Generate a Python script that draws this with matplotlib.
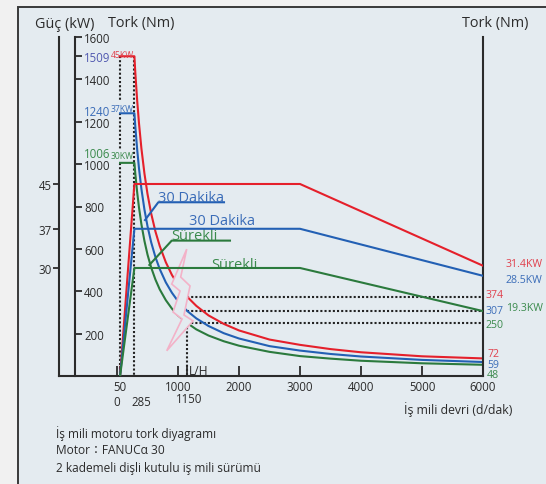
import matplotlib

matplotlib.use("Agg")
import matplotlib.pyplot as plt  # noqa:E402
from matplotlib.patches import Polygon, Rectangle  # noqa:E402

plt.rcParams["font.family"] = ["Open Sans", "DejaVu Sans"]

# torque curves (Nm) at these spindle speeds (rpm)
TORQUE_RPM = [50, 285, 300, 330, 360, 400, 450, 500, 560, 630, 700, 800, 900,
              1000, 1150, 1300, 1500, 1750, 2000, 2500, 3000, 3500, 4000, 5000, 6000]
TORQUE_45KW = [1509, 1509, 1432, 1302, 1194, 1074, 955, 859, 767, 682, 614, 537, 477,
               430, 374, 331, 286, 246, 215, 172, 147, 127, 112, 93, 83]
TORQUE_37KW = [1240, 1240, 1178, 1071, 981, 883, 785, 707, 631, 561, 505, 442, 393,
               353, 307, 272, 236, 202, 177, 141, 120, 104, 92, 76, 66]
TORQUE_30KW = [1006, 1006, 955, 868, 796, 716, 637, 573, 512, 455, 409, 358, 318,
               286, 250, 220, 191, 164, 143, 114, 94, 82, 72, 60, 53]

# power curves (kW, on the left power scale)
POWER_RPM = [50, 285, 3000, 6000]
POWER_45KW = [10.7, 45, 45, 30.4]
POWER_37KW = [10.7, 37, 37, 28.6]
POWER_30KW = [10.7, 30, 30, 22.3]

TORQUE_TICKS = [200, 400, 600, 800, 1000, 1200, 1400, 1509, 1600]
POWER_TICKS = [30, 37, 45]
RPM_TICKS = [0, 50, 1000, 1150, 2000, 3000, 4000, 5000, 6000]
RPM_TICK_LABELS = ["", "50", "1000", "", "2000", "3000", "4000", "5000", "6000"]

START_RPM = 50
BASE_RPM = 285
SHIFT_RPM = 1150
MAX_TORQUE = [1509, 1240, 1006]
SHIFT_TORQUE = [374, 307, 250]
END_TORQUE = [72, 59, 48]
END_POWER = ["31.4KW", "28.5KW", "19.3KW"]
MAX_POWER = ["45KW", "37KW", "30KW"]

# gear change "lightning" mark
BOLT_RPM = [1143, 897, 1033, 918, 1066, 815, 1246, 1098, 1197, 1044]
BOLT_NM = [599, 434, 401, 302, 269, 119, 260, 288, 425, 467]

RED = "#e5202b"
BLUE = "#2360b4"
GREEN = "#2b7a3d"
RED_TXT = "#e0404c"
BLUE_TXT = "#3a6cb8"
GREEN_TXT = "#3a8a4c"
PANEL = "#e4ebf0"
INK = "#2b2b2b"

W, H = 546, 485


def fx(px):
    return px / W


def fy(py):
    return 1 - py / H


fig = plt.figure(figsize=(W / 100, H / 100), dpi=100, facecolor="#f1f1f1")
fig.add_artist(Rectangle((fx(18), -0.02), 1.0, fy(8) + 0.02, transform=fig.transFigure,
                         facecolor=PANEL, edgecolor="#3a3a3a", lw=1.4, zorder=-1))

ax = fig.add_axes([fx(59), fy(377), fx(483) - fx(59), fy(38) - fy(377)])
ax_p = ax.twinx()
ax.patch.set_visible(False)
ax.set_xlim(-951, 6000)
ax.set_ylim(0, 1600)
ax_p.set_ylim(10.71, 71.25)

# spines
for s in ax.spines.values():
    s.set_linewidth(1.5)
    s.set_color(INK)
ax.spines["top"].set_visible(False)
ax.spines["left"].set_position(("data", -690))
for name in ("top", "bottom", "right"):
    ax_p.spines[name].set_visible(False)
ax_p.spines["left"].set_linewidth(1.5)
ax_p.spines["left"].set_color(INK)

# torque axis: ticks inside, labels to the right of the spine
ax.yaxis.set_ticks_position("left")
ax.set_yticks(TORQUE_TICKS, [str(t) for t in TORQUE_TICKS])
ax.tick_params(axis="y", direction="in", length=5, width=1.3, pad=-6.5,
               labelsize=8.3, colors=INK)
for lbl in ax.get_yticklabels():
    lbl.set_horizontalalignment("left")
ax.get_yticklabels()[TORQUE_TICKS.index(1509)].set_color("#5058b0")

ax.set_xticks(RPM_TICKS, RPM_TICK_LABELS)
ax.tick_params(axis="x", direction="in", length=7, width=1.3, pad=3,
               labelsize=8.3, colors=INK)

# power axis
ax_p.yaxis.set_ticks_position("left")
ax_p.set_yticks(POWER_TICKS, [str(p) for p in POWER_TICKS])
ax_p.tick_params(axis="y", direction="out", length=4, width=1.3, pad=1.5,
                 labelsize=8.3, colors=INK)

# reference dotted lines
dot = dict(color="#222222", lw=1.5, ls=(0, (1, 1)), zorder=1.5)
ax.plot([START_RPM, START_RPM], [MAX_TORQUE[0], 1300], **dot)
ax.plot([START_RPM, START_RPM], [MAX_TORQUE[1], 1070], **dot)
ax.plot([START_RPM, START_RPM], [MAX_TORQUE[2], 0], **dot)
ax.plot([BASE_RPM, BASE_RPM], [MAX_TORQUE[0], 0], **dot)
ax.plot([SHIFT_RPM, SHIFT_RPM], [SHIFT_TORQUE[2], 0], **dot)
for t in SHIFT_TORQUE:
    ax.plot([SHIFT_RPM, 6000], [t, t], **dot)

# torque curves
for vals, c in zip([TORQUE_45KW, TORQUE_37KW, TORQUE_30KW], [RED, BLUE, GREEN]):
    ax.plot(TORQUE_RPM, vals, color=c, lw=1.5, zorder=2, solid_joinstyle="round")

# lightning mark hides the gear-change gap
ax.add_patch(Polygon(list(zip(BOLT_RPM, BOLT_NM)), closed=True, facecolor=PANEL,
                     edgecolor="#f3b2c8", lw=1.2, zorder=4))

# power curves
for vals, c in zip([POWER_45KW, POWER_37KW, POWER_30KW], [RED, BLUE, GREEN]):
    ax_p.plot(POWER_RPM, vals, color=c, lw=1.5, zorder=3)

# callouts
ax.plot([459, 677, 1754], [736, 820, 820], color=BLUE, lw=1.5, zorder=3)
ax.text(672, 827, "30 Dakika", color=BLUE_TXT, fontsize=10.5, va="baseline")
ax.plot([530, 897, 1852], [524, 639, 639], color=GREEN, lw=1.5, zorder=3)
ax.text(897, 647, "Sürekli", color=GREEN_TXT, fontsize=10.5, va="baseline")
ax.text(1180, 717, "30 Dakika", color=BLUE_TXT, fontsize=10.5, va="baseline")
ax.text(1552, 510, "Sürekli", color=GREEN_TXT, fontsize=10.5, va="baseline")
ax.text(1180, 24, "L/H", color=INK, fontsize=8.7, va="center")

# headers
fig.text(fx(35), fy(24), "Güç (kW)", fontsize=10.4, color=INK, va="center")
fig.text(fx(108), fy(24), "Tork (Nm)", fontsize=10.4, color=INK, va="center")
fig.text(fx(462), fy(24), "Tork (Nm)", fontsize=10.4, color=INK, va="center")

# left side value labels
fig.text(fx(84), fy(112), "1240", fontsize=8.3, color=BLUE_TXT, va="center")
fig.text(fx(84), fy(155), "1006", fontsize=8.3, color=GREEN_TXT, va="center")
for lab, py, c in zip(MAX_POWER, [55, 110, 157], [RED_TXT, BLUE_TXT, GREEN_TXT]):
    fig.text(fx(111), fy(py), lab, fontsize=6.2, color=c, va="center")

# right side value labels
for t, py, c in zip(SHIFT_TORQUE, [296, 311, 326], [RED_TXT, BLUE_TXT, GREEN_TXT]):
    fig.text(fx(486), fy(py), str(t), fontsize=7.6, color=c, va="center")
for t, py, c in zip(END_TORQUE, [355, 366, 376], [RED_TXT, BLUE_TXT, GREEN_TXT]):
    fig.text(fx(487), fy(py), str(t), fontsize=7.6, color=c, va="center")
for lab, py, c in zip(END_POWER, [264.5, 280.5, 309], [RED_TXT, BLUE_TXT, GREEN_TXT]):
    fig.text(fx(506), fy(py), lab, fontsize=7.6, color=c, va="center")

# second row of speed labels
fig.text(fx(117), fy(402), "0", fontsize=8.3, color=INK, ha="center", va="center")
fig.text(fx(141), fy(402), "285", fontsize=8.3, color=INK, ha="center", va="center")
fig.text(fx(189.5), fy(400), "1150", fontsize=8.3, color=INK, ha="center", va="center")
fig.text(fx(404), fy(410), "İş mili devri (d/dak)", fontsize=8.8, color=INK, va="center")

# caption
fig.text(fx(56), fy(434), "İş mili motoru tork diyagramı", fontsize=8.6, color=INK, va="center")
fig.text(fx(56), fy(451), "Motor：FANUCα 30", fontsize=8.6, color=INK, va="center",
         family=["Open Sans", "Noto Sans CJK JP", "DejaVu Sans"])
fig.text(fx(56), fy(469), "2 kademeli dişli kutulu iş mili sürümü", fontsize=8.6,
         color=INK, va="center")

fig.savefig("out.png", dpi=100, facecolor=fig.get_facecolor())
